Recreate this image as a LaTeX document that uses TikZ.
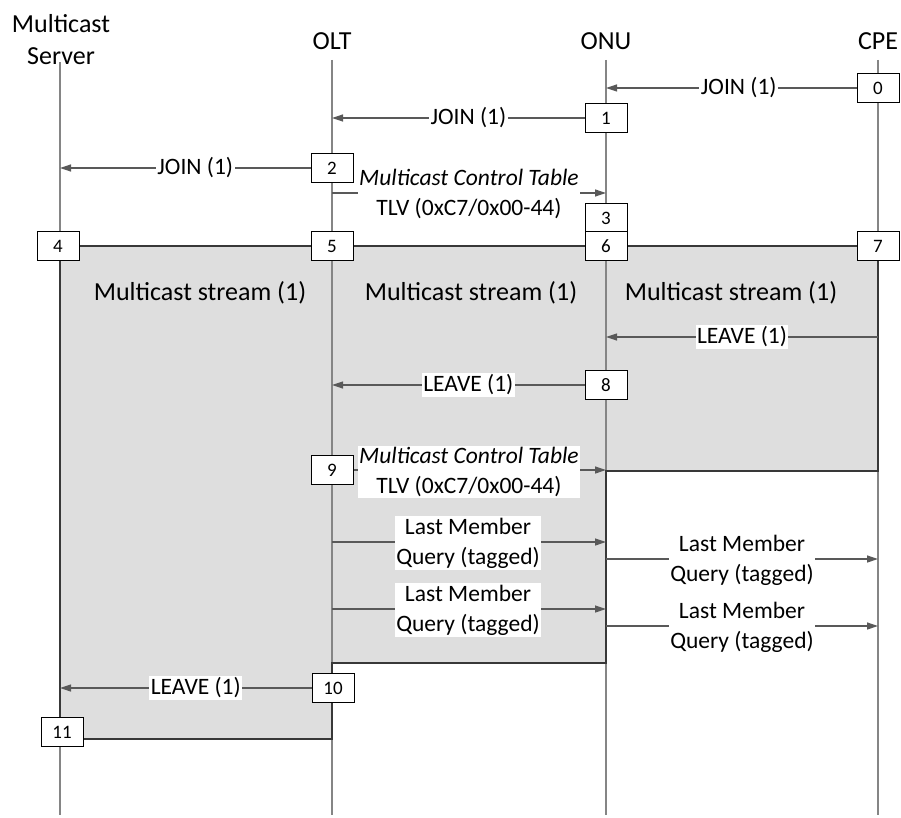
\documentclass[tikz,border=0pt]{standalone}
\usepackage{fontspec}
\setmainfont{Carlito}
\usetikzlibrary{arrows.meta}
\begin{document}
\begin{tikzpicture}[x=1pt,y=-1pt,
  life/.style={draw=black!48, line width=1.2pt},
  region/.style={fill=black!13},
  regionedge/.style={draw=black!78, line width=1.5pt},
  numbox/.style={draw=black, fill=white, line width=1pt, minimum width=42pt, minimum height=29pt, inner sep=0pt, font=\fontsize{19}{22}\selectfont},
  msg/.style={draw=black!65, line width=1.2pt, -{Triangle[length=11pt,width=7pt]}},
  lbl/.style={fill=white, inner sep=1.5pt, align=center, font=\fontsize{23.5}{30}\selectfont},
  head/.style={align=center, font=\fontsize{26}{32}\selectfont},
  stream/.style={font=\fontsize{26}{30}\selectfont}]
\fill[white] (0,0) rectangle (901,818);
\useasboundingbox (0,0) rectangle (901,818);

% headers
\node[head] (hsrv) at (61,40) {Multicast\\Server};
\node[head] (holt) at (332,41) {OLT};
\node[head] (honu) at (606,41) {ONU};
\node[head] (hcpe) at (878,41) {CPE};

% lifeline coordinates
\coordinate (srv) at (60,62);
\coordinate (olt) at (332,60);
\coordinate (onu) at (606,60);
\coordinate (cpe) at (878,60);
\coordinate (srvE) at (60,815);
\coordinate (oltE) at (332,815);
\coordinate (onuE) at (606,815);
\coordinate (cpeE) at (878,815);

% shaded region
\fill[region] (60,246) -- (878,246) -- (878,471) -- (606,471) -- (606,663) -- (332,663) -- (332,739) -- (60,739) -- cycle;

% lifelines
\draw[life] (srv) -- (srvE);
\draw[life] (olt) -- (oltE);
\draw[life] (onu) -- (onuE);
\draw[life] (cpe) -- (cpeE);

% region outline
\draw[regionedge] (60,246) -- (878,246) -- (878,471) -- (606,471) -- (606,663) -- (332,663) -- (332,739) -- (60,739) -- cycle;

% stream labels
\node[stream] (s1) at (200,293) {Multicast stream (1)};
\node[stream] (s2) at (471,293) {Multicast stream (1)};
\node[stream] (s3) at (731,293) {Multicast stream (1)};

% boxes
\node[numbox] (b0) at (878,88) {0};
\node[numbox] (b1) at (606,118) {1};
\node[numbox] (b2) at (332,168) {2};
\node[numbox] (b3) at (606,218) {3};
\node[numbox] (b4) at (58,246) {4};
\node[numbox] (b5) at (332,246) {5};
\node[numbox] (b6) at (606,246) {6};
\node[numbox] (b7) at (878,246) {7};
\node[numbox] (b8) at (606,385) {8};
\node[numbox] (b9) at (332,470) {9};
\node[numbox] (b10) at (333,688) {10};
\node[numbox] (b11) at (62,732) {11};

% messages
\draw[msg] (b0.west) -- node[lbl, pos=0.47] {JOIN (1)} (b0.west -| onu);
\draw[msg] (b1.west) -- node[lbl, pos=0.46] {JOIN (1)} (b1.west -| olt);
\draw[msg] (b2.west) -- node[lbl, pos=0.46] {JOIN (1)} (b2.west -| srv);

\coordinate (m1) at (332,193);
\draw[msg] (m1) -- (m1 -| onu);
\node[lbl] (m1l) at (469,194) {\textit{Multicast Control Table}\\TLV (0xC7/0x00-44)};

\coordinate (lv1) at (878,337);
\draw[msg] (lv1) -- node[lbl, pos=0.5] {LEAVE (1)} (lv1 -| onu);
\draw[msg] (b8.west) -- node[lbl, pos=0.46] {LEAVE (1)} (b8.west -| olt);

\draw[msg] (b9.east) -- (b9.east -| onu);
\node[lbl] (m2l) at (469,472) {\textit{Multicast Control Table}\\TLV (0xC7/0x00-44)};

\coordinate (q1) at (332,542);
\draw[msg] (q1) -- (q1 -| onu);
\node[lbl] (q1l) at (468,543) {Last Member\\Query (tagged)};
\coordinate (q2) at (606,559);
\draw[msg] (q2) -- (q2 -| cpe);
\node[lbl] (q2l) at (742,560) {Last Member\\Query (tagged)};
\coordinate (q3) at (332,609);
\draw[msg] (q3) -- (q3 -| onu);
\node[lbl] (q3l) at (468,610) {Last Member\\Query (tagged)};
\coordinate (q4) at (606,626);
\draw[msg] (q4) -- (q4 -| cpe);
\node[lbl] (q4l) at (742,627) {Last Member\\Query (tagged)};

\draw[msg] (b10.west) -- node[lbl, pos=0.46] {LEAVE (1)} (b10.west -| srv);
\end{tikzpicture}
\end{document}
